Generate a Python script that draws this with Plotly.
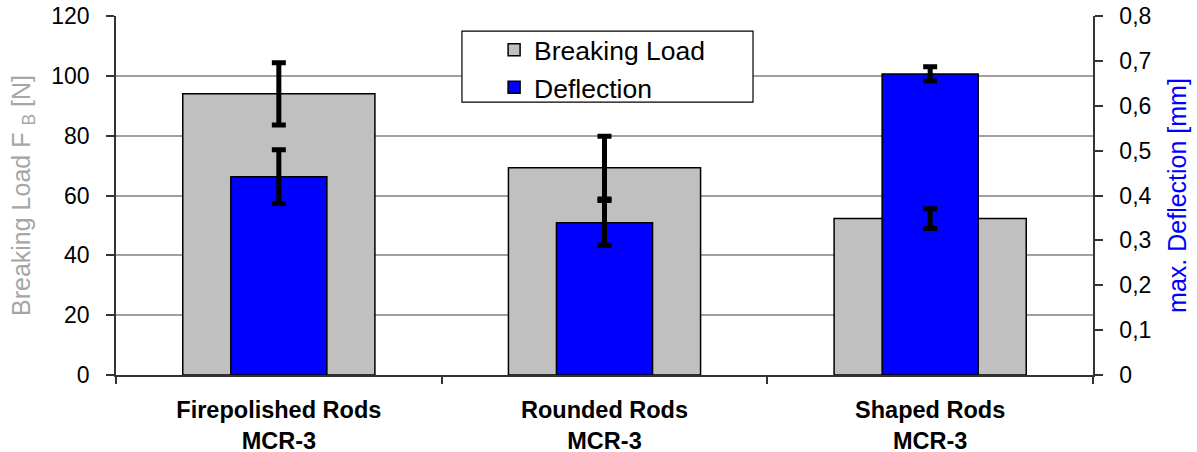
import plotly.graph_objects as go

categories = ["Firepolished Rods<br>MCR-3", "Rounded Rods<br>MCR-3", "Shaped Rods<br>MCR-3"]
breaking_load = [94.0, 69.3, 52.3]
breaking_load_err = [10.4, 10.5, 3.3]
deflection = [0.442, 0.339, 0.671]
deflection_err = [0.060, 0.050, 0.016]
left_ticks = [0, 20, 40, 60, 80, 100, 120]
right_ticks = [0, 0.1, 0.2, 0.3, 0.4, 0.5, 0.6, 0.7, 0.8]

FONT = "Arial, Liberation Sans, sans-serif"
err_style = dict(type="data", visible=True, color="black", thickness=5, width=7)

fig = go.Figure()
fig.add_trace(go.Bar(
    x=categories, y=breaking_load, name="Breaking Load", yaxis="y",
    width=0.59, marker=dict(color="#c0c0c0", line=dict(color="black", width=1.5)),
))
fig.add_trace(go.Bar(
    x=categories, y=deflection, name="Deflection", yaxis="y2",
    width=0.295, marker=dict(color="#0000ff", line=dict(color="black", width=1.5)),
    error_y=dict(array=deflection_err, **err_style),
))
fig.add_trace(go.Scatter(
    x=categories, y=breaking_load, yaxis="y3", mode="markers", showlegend=False,
    marker=dict(size=1, color="rgba(0,0,0,0)"), hoverinfo="skip",
    error_y=dict(array=breaking_load_err, **err_style),
))

fig.update_layout(
    width=1197, height=452,
    margin=dict(l=116, r=104, t=16, b=77),
    paper_bgcolor="white", plot_bgcolor="white",
    barmode="overlay", separators=", ",
    font=dict(family=FONT, color="black"),
    showlegend=True,
    legend=dict(
        x=0.387, y=0.972, xanchor="left", yanchor="top",
        bgcolor="rgba(0,0,0,0)", borderwidth=0,
        font=dict(family=FONT, size=26.5, color="black"),
    ),
    xaxis=dict(
        type="category", range=[-0.5, 2.5], tickson="boundaries", automargin=False,
        ticks="outside", ticklen=7, tickcolor="#333", tickwidth=1.5,
        showline=True, linecolor="#333", linewidth=1.5, showgrid=False,
        tickfont=dict(family=FONT, size=23.5, color="black", weight="bold"),
        ticklabelstandoff=13,
    ),
    yaxis=dict(
        range=[0, 120], tickvals=left_ticks, ticks="outside", ticklen=8, automargin=False,
        tickcolor="#333", tickwidth=1.5, showline=True, linecolor="#333", linewidth=1.5,
        showgrid=True, gridcolor="#a0a0a0", gridwidth=1.5, zeroline=False,
        tickfont=dict(family=FONT, size=23, color="black"), ticklabelstandoff=12,
        ticklabeloverflow="allow",
        title=dict(text="Breaking Load F <sub>B</sub> [N]", standoff=14,
                   font=dict(family=FONT, size=25, color="#a6a6a6")),
    ),
    yaxis2=dict(
        overlaying="y", side="right", range=[0, 0.8], tickvals=right_ticks, automargin=False,
        ticks="outside", ticklen=8, tickcolor="#333", tickwidth=1.5,
        showline=True, linecolor="#333", linewidth=1.5, showgrid=False, zeroline=False,
        tickfont=dict(family=FONT, size=23, color="black"), ticklabelstandoff=12,
        ticklabeloverflow="allow",
        title=dict(text="max. Deflection [mm]", standoff=18,
                   font=dict(family=FONT, size=25, color="#0000ff")),
    ),
    yaxis3=dict(overlaying="y", range=[0, 120], visible=False),
    shapes=[dict(
        type="rect", xref="paper", yref="paper",
        x0=0.3541, x1=0.652, y0=0.760, y1=0.958,
        fillcolor="white", line=dict(color="black", width=1.2), layer="above",
    )],
)

fig.write_html(
    "out.html",
    config={"displayModeBar": False},
    post_script="document.body.style.margin='0';document.body.style.overflow='hidden';",
)
